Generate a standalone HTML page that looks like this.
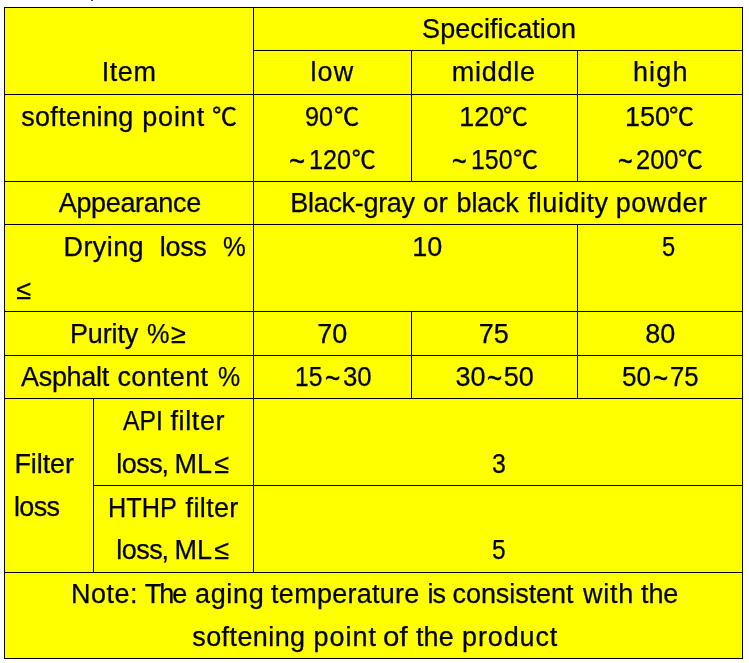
<!DOCTYPE html>
<html lang="en">
<head>
<meta charset="utf-8">
<title>Specification table</title>
<style>
html,body{margin:0;padding:0;background:#fff;}
body{width:749px;height:663px;position:relative;overflow:hidden;font-family:"Liberation Sans","Noto Sans CJK SC",sans-serif;color:#000;}
table{position:absolute;left:4px;top:7px;width:739px;height:652px;table-layout:fixed;border-collapse:separate;border-spacing:0;border-left:1px solid #000;border-top:1px solid #000;background:#ffff00;}
td{padding:0;margin:0;border-right:1px solid #000;border-bottom:1px solid #000;vertical-align:top;overflow:visible;}
.c{position:relative;width:100%;height:0;}
.ln{position:absolute;left:0;width:100%;height:40px;margin:0;font-size:27px;line-height:40px;white-space:nowrap;}
.ln span{position:absolute;top:0;transform-origin:0 50%;-webkit-text-stroke:0.25px #000;}
#dot{position:absolute;left:91px;top:0;width:2px;height:1px;background:#4b2a55;}
</style>
</head>
<body>
<div id="dot"></div>
<table>
<colgroup><col style="width:89px"><col style="width:160px"><col style="width:158px"><col style="width:166px"><col style="width:165px"></colgroup>
<tbody>
<tr style="height:43px">
<td rowspan="2" colspan="2"><div class="c">
<p class="ln" style="top:44px"><span style="left:96.77px;letter-spacing:0.55px;">Item</span></p>
</div></td>
<td colspan="3"><div class="c">
<p class="ln" style="top:1px"><span style="left:168.07px;letter-spacing:0.07px;">Specification</span></p>
</div></td>
</tr>
<tr style="height:44px">
<td><div class="c">
<p class="ln" style="top:1px"><span style="left:56.55px;letter-spacing:1.05px;">low</span></p>
</div></td>
<td><div class="c">
<p class="ln" style="top:1px"><span style="left:39.78px;letter-spacing:0.74px;">middle</span></p>
</div></td>
<td><div class="c">
<p class="ln" style="top:1px"><span style="left:54.97px;letter-spacing:1.14px;">high</span></p>
</div></td>
</tr>
<tr style="height:87px">
<td colspan="2"><div class="c">
<p class="ln" style="top:2px"><span style="left:16.2px;letter-spacing:0.31px;">softening</span> <span style="left:137.2px;letter-spacing:0.88px;">point</span> <span style="left:207.06px;font-size:24px;-webkit-text-stroke-width:0.4px;transform:scaleX(1.041);">℃</span></p>
</div></td>
<td><div class="c">
<p class="ln" style="top:2px"><span style="left:51.46px;transform:scaleX(0.936);">90</span><span style="left:79.75px;font-size:24px;-webkit-text-stroke-width:0.4px;transform:scaleX(1.055);">℃</span></p>
<p class="ln" style="top:45px"><span style="left:35.35px;top:2px;-webkit-text-stroke-width:0.5px;">~</span><span style="left:55.03px;transform:scaleX(0.933);">120</span><span style="left:97.85px;font-size:24px;-webkit-text-stroke-width:0.4px;">℃</span></p>
</div></td>
<td><div class="c">
<p class="ln" style="top:2px"><span style="left:47.3px;">120</span><span style="left:91.26px;font-size:24px;-webkit-text-stroke-width:0.4px;transform:scaleX(1.036);">℃</span></p>
<p class="ln" style="top:45px"><span style="left:39.97px;top:2px;-webkit-text-stroke-width:0.5px;transform:scaleX(0.929);">~</span><span style="left:59.26px;transform:scaleX(0.921);">150</span><span style="left:100.86px;font-size:24px;-webkit-text-stroke-width:0.4px;transform:scaleX(1.041);">℃</span></p>
</div></td>
<td><div class="c">
<p class="ln" style="top:2px"><span style="left:46.95px;">150</span><span style="left:91.06px;font-size:24px;-webkit-text-stroke-width:0.4px;transform:scaleX(1.041);">℃</span></p>
<p class="ln" style="top:45px"><span style="left:39.77px;top:2px;-webkit-text-stroke-width:0.5px;transform:scaleX(0.929);">~</span><span style="left:58.06px;transform:scaleX(0.944);">200</span><span style="left:100.26px;font-size:24px;-webkit-text-stroke-width:0.4px;transform:scaleX(1.036);">℃</span></p>
</div></td>
</tr>
<tr style="height:43px">
<td colspan="2"><div class="c">
<p class="ln" style="top:1px"><span style="left:53.79px;letter-spacing:-0.36px;">Appearance</span></p>
</div></td>
<td colspan="3"><div class="c">
<p class="ln" style="top:1px"><span style="left:36.3px;letter-spacing:-0.31px;">Black-gray</span> <span style="left:169.27px;transform:scaleX(1.035);">or</span> <span style="left:202.62px;letter-spacing:-0.22px;">black</span> <span style="left:273.76px;letter-spacing:0.54px;">fluidity</span> <span style="left:361.63px;letter-spacing:0.58px;">powder</span></p>
</div></td>
</tr>
<tr style="height:87px">
<td colspan="2"><div class="c">
<p class="ln" style="top:2px"><span style="left:58.5px;letter-spacing:0.41px;">Drying</span> <span style="left:154.8px;letter-spacing:-0.33px;">loss</span> <span style="left:218.35px;transform:scaleX(0.950);">%</span></p>
<p class="ln" style="top:45px"><span style="left:11.15px;">≤</span></p>
</div></td>
<td colspan="2"><div class="c">
<p class="ln" style="top:2px"><span style="left:158.25px;">10</span></p>
</div></td>
<td><div class="c">
<p class="ln" style="top:2px"><span style="left:83.82px;transform:scaleX(0.877);">5</span></p>
</div></td>
</tr>
<tr style="height:44px">
<td colspan="2"><div class="c">
<p class="ln" style="top:2px"><span style="left:65px;letter-spacing:-0.14px;">Purity</span> <span style="left:141.86px;transform:scaleX(0.936);">%</span><span style="left:165.9px;">≥</span></p>
</div></td>
<td><div class="c">
<p class="ln" style="top:2px"><span style="left:63.35px;">70</span></p>
</div></td>
<td><div class="c">
<p class="ln" style="top:2px"><span style="left:66.8px;">75</span></p>
</div></td>
<td><div class="c">
<p class="ln" style="top:2px"><span style="left:67.35px;">80</span></p>
</div></td>
</tr>
<tr style="height:43px">
<td colspan="2"><div class="c">
<p class="ln" style="top:1px"><span style="left:16px;letter-spacing:-0.3px;">Asphalt</span> <span style="left:112.5px;letter-spacing:0.32px;">content</span> <span style="left:212.58px;transform:scaleX(0.923);">%</span></p>
</div></td>
<td><div class="c">
<p class="ln" style="top:1px"><span style="left:41.18px;transform:scaleX(0.911);">15</span><span style="left:70.84px;top:2px;-webkit-text-stroke-width:0.5px;transform:scaleX(0.964);">~</span><span style="left:88.75px;transform:scaleX(0.954);">30</span></p>
</div></td>
<td><div class="c">
<p class="ln" style="top:1px"><span style="left:43.55px;">30</span><span style="left:74.74px;top:2px;-webkit-text-stroke-width:0.5px;transform:scaleX(0.957);">~</span><span style="left:91.75px;">50</span></p>
</div></td>
<td><div class="c">
<p class="ln" style="top:1px"><span style="left:43.93px;transform:scaleX(0.968);">50</span><span style="left:75.04px;top:2px;-webkit-text-stroke-width:0.5px;transform:scaleX(0.957);">~</span><span style="left:91.75px;transform:scaleX(0.954);">75</span></p>
</div></td>
</tr>
<tr style="height:87px">
<td rowspan="2"><div class="c">
<p class="ln" style="top:45px"><span style="left:9.4px;letter-spacing:-0.08px;">Filter</span></p>
<p class="ln" style="top:89px"><span style="left:9.02px;letter-spacing:-0.67px;top:-1px;">loss</span></p>
</div></td>
<td><div class="c">
<p class="ln" style="top:2px"><span style="left:28.8px;transform:scaleX(0.917);">API</span> <span style="left:76.52px;letter-spacing:0.6px;">filter</span></p>
<p class="ln" style="top:45px"><span style="left:22.22px;letter-spacing:-0.53px;">loss</span><span style="left:67.45px;">,</span> <span style="left:80.6px;">ML</span><span style="left:120.25px;">≤</span></p>
</div></td>
<td colspan="3"><div class="c">
<p class="ln" style="top:45px"><span style="left:237.58px;transform:scaleX(0.923);">3</span></p>
</div></td>
</tr>
<tr style="height:87px">
<td><div class="c">
<p class="ln" style="top:2px"><span style="left:14.33px;transform:scaleX(0.936);">HTHP</span> <span style="left:91.6px;letter-spacing:0.35px;">filter</span></p>
<p class="ln" style="top:44px"><span style="left:22.22px;letter-spacing:-0.53px;">loss</span><span style="left:67.45px;">,</span> <span style="left:80.6px;">ML</span><span style="left:120.25px;">≤</span></p>
</div></td>
<td colspan="3"><div class="c">
<p class="ln" style="top:44px"><span style="left:237.79px;transform:scaleX(0.908);">5</span></p>
</div></td>
</tr>
<tr style="height:86px">
<td colspan="5"><div class="c">
<p class="ln" style="top:1px"><span style="left:66px;letter-spacing:0.52px;">Note:</span> <span style="left:139.78px;letter-spacing:-2.04px;">The</span> <span style="left:190px;letter-spacing:0.67px;">aging</span> <span style="left:266.1px;letter-spacing:0.26px;">temperature</span> <span style="left:422.4px;letter-spacing:-1px;">is</span> <span style="left:447.5px;letter-spacing:-0.06px;">consistent</span> <span style="left:578px;letter-spacing:0.77px;">with</span> <span style="left:636.1px;letter-spacing:-0.12px;">the</span></p>
<p class="ln" style="top:44px"><span style="left:187.23px;letter-spacing:0.41px;">softening</span> <span style="left:308.44px;letter-spacing:1.01px;">point</span> <span style="left:378.01px;transform:scaleX(1.091);">of</span> <span style="left:410.94px;letter-spacing:0.1px;">the</span> <span style="left:457.05px;letter-spacing:0.86px;">product</span></p>
</div></td>
</tr>
</tbody>
</table>
</body>
</html>
